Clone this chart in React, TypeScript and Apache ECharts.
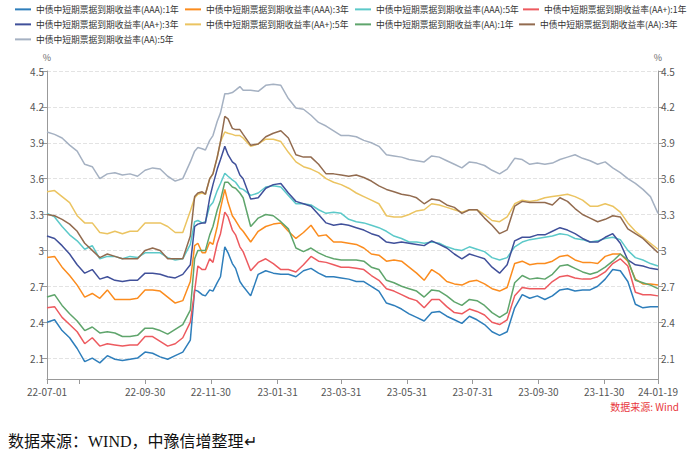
import React, { useEffect, useRef } from "react";
import * as echarts from "echarts";

const FONT = "'Noto Sans CJK SC', 'Noto Sans', sans-serif";

const tickDates = ["22-07-01", "22-07-31", "22-09-30", "22-11-30", "23-01-31", "23-03-31", "23-05-31", "23-07-31", "23-09-30", "23-11-30", "24-01-19"];
const labelDates = ["22-07-01", "22-09-30", "22-11-30", "23-01-31", "23-03-31", "23-05-31", "23-07-31", "23-09-30", "23-11-30", "24-01-19"];

// day offsets from 2022-07-01 of the sampled points
const sampleDays = [0, 7, 14, 21, 28, 35, 42, 49, 56, 63, 70, 77, 84, 91, 98, 105, 112, 119, 126, 133,
  137, 140, 144, 147, 151, 154, 158, 161, 165, 168, 172, 175, 179, 182,
  189, 196, 203, 210, 217, 224, 231, 238, 245, 252, 259, 266, 273, 280,
  287, 294, 301, 308, 315, 322, 329, 336, 343, 350, 357, 364, 371, 378,
  385, 392, 399, 406, 413, 420, 427, 434, 441, 448, 455, 462, 469,
  476, 483, 490, 497, 504, 511, 518, 525, 532, 539, 546, 553, 560, 567];

const seriesNames = [
  "中债中短期票据到期收益率(AAA):1年",
  "中债中短期票据到期收益率(AAA):3年",
  "中债中短期票据到期收益率(AAA):5年",
  "中债中短期票据到期收益率(AA+):1年",
  "中债中短期票据到期收益率(AA+):3年",
  "中债中短期票据到期收益率(AA+):5年",
  "中债中短期票据到期收益率(AA):1年",
  "中债中短期票据到期收益率(AA):3年",
  "中债中短期票据到期收益率(AA):5年",
];

const colors = ["#2e7ebb", "#fb8c1e", "#5cc9c9", "#ed5a5f", "#40509a", "#ebc461", "#5fa56c", "#926b4f", "#a5b1c2"];

const aaa1 = [2.40, 2.42, 2.33, 2.27, 2.18, 2.07, 2.10, 2.06, 2.12, 2.09, 2.08, 2.09, 2.10, 2.15, 2.14, 2.11, 2.09, 2.12, 2.15, 2.25,
  2.67, 2.66, 2.63, 2.62, 2.67, 2.66, 2.73, 2.78, 3.03, 2.98, 2.89, 2.85, 2.74, 2.70,
  2.62, 2.80, 2.83, 2.81, 2.80, 2.80, 2.78, 2.83, 2.85, 2.81, 2.78, 2.78, 2.77, 2.76,
  2.74, 2.74, 2.70, 2.66, 2.56, 2.54, 2.51, 2.47, 2.44, 2.41, 2.48, 2.49, 2.45, 2.42,
  2.39, 2.45, 2.42, 2.38, 2.32, 2.29, 2.32, 2.52, 2.63, 2.60, 2.62, 2.59, 2.62,
  2.67, 2.68, 2.66, 2.67, 2.67, 2.70, 2.76, 2.84, 2.83, 2.74, 2.55, 2.52, 2.53, 2.53];

const aaa3 = [2.94, 2.95, 2.86, 2.79, 2.71, 2.61, 2.64, 2.60, 2.67, 2.59, 2.59, 2.59, 2.60, 2.67, 2.67, 2.66, 2.61, 2.56, 2.58, 2.74,
  3.04, 3.06, 2.98, 2.98, 3.07, 3.05, 3.20, 3.35, 3.51, 3.40, 3.29, 3.25, 3.19, 3.16,
  3.07, 3.16, 3.20, 3.22, 3.23, 3.16, 3.10, 3.15, 3.21, 3.12, 3.13, 3.07, 3.07, 3.06,
  3.05, 3.02, 2.97, 2.96, 2.91, 2.92, 2.91, 2.86, 2.81, 2.75, 2.84, 2.80, 2.74, 2.72,
  2.71, 2.74, 2.75, 2.72, 2.68, 2.66, 2.69, 2.89, 2.91, 2.88, 2.89, 2.89, 2.91,
  2.95, 2.96, 2.92, 2.90, 2.90, 2.89, 2.95, 2.97, 2.97, 2.91, 2.76, 2.72, 2.72, 2.71];

const aaa5 = [3.31, 3.28, 3.20, 3.13, 3.08, 3.01, 3.04, 2.93, 2.95, 2.95, 2.93, 2.95, 2.94, 2.98, 2.98, 2.98, 2.94, 2.92, 2.93, 3.05,
  3.24, 3.25, 3.23, 3.24, 3.37, 3.40, 3.50, 3.56, 3.645, 3.62, 3.59, 3.57, 3.52, 3.51,
  3.46, 3.48, 3.53, 3.54, 3.53, 3.46, 3.39, 3.39, 3.38, 3.34, 3.31, 3.32, 3.31, 3.26,
  3.24, 3.23, 3.21, 3.19, 3.16, 3.12, 3.10, 3.07, 3.07, 3.06, 3.07, 3.06, 3.03, 3.01,
  3.00, 3.03, 3.01, 2.99, 2.94, 2.92, 2.94, 3.03, 3.07, 3.09, 3.10, 3.11, 3.12,
  3.14, 3.13, 3.10, 3.09, 3.07, 3.08, 3.10, 3.11, 3.09, 3.00, 2.94, 2.92, 2.89, 2.87];

const aap1 = [2.52, 2.53, 2.44, 2.38, 2.32, 2.22, 2.27, 2.20, 2.22, 2.21, 2.20, 2.21, 2.21, 2.28, 2.28, 2.24, 2.20, 2.22, 2.27, 2.40,
  2.66, 2.87, 2.84, 2.84, 2.93, 2.90, 3.06, 3.14, 3.32, 3.28, 3.17, 3.13, 3.03, 2.99,
  2.83, 2.90, 2.93, 2.89, 2.84, 2.84, 2.82, 2.88, 2.95, 2.91, 2.90, 2.88, 2.86, 2.86,
  2.85, 2.84, 2.79, 2.75, 2.68, 2.66, 2.63, 2.60, 2.58, 2.52, 2.59, 2.59, 2.53, 2.48,
  2.47, 2.51, 2.49, 2.46, 2.40, 2.38, 2.42, 2.62, 2.69, 2.68, 2.68, 2.68, 2.74,
  2.78, 2.79, 2.77, 2.76, 2.76, 2.78, 2.82, 2.89, 2.93, 2.87, 2.65, 2.63, 2.63, 2.62];

const aap3 = [3.12, 3.10, 3.04, 2.97, 2.88, 2.81, 2.84, 2.76, 2.78, 2.75, 2.74, 2.75, 2.75, 2.81, 2.81, 2.80, 2.78, 2.77, 2.80, 2.88,
  3.20, 3.22, 3.23, 3.23, 3.44, 3.55, 3.68, 3.76, 3.87, 3.80, 3.74, 3.72, 3.63, 3.60,
  3.43, 3.44, 3.52, 3.55, 3.56, 3.48, 3.41, 3.39, 3.37, 3.30, 3.23, 3.21, 3.22, 3.21,
  3.19, 3.17, 3.14, 3.12, 3.07, 3.06, 3.07, 3.06, 3.05, 3.04, 3.08, 3.05, 3.02, 2.97,
  2.93, 2.97, 2.95, 2.93, 2.86, 2.81, 2.88, 3.08, 3.11, 3.11, 3.13, 3.13, 3.16,
  3.19, 3.17, 3.14, 3.10, 3.07, 3.07, 3.11, 3.14, 3.06, 2.92, 2.88, 2.87, 2.85, 2.84];

const aap5 = [3.49, 3.50, 3.45, 3.40, 3.29, 3.23, 3.23, 3.15, 3.14, 3.16, 3.14, 3.16, 3.16, 3.23, 3.23, 3.23, 3.20, 3.15, 3.15, 3.33,
  3.44, 3.47, 3.48, 3.47, 3.60, 3.64, 3.78, 3.91, 3.99, 3.98, 3.97, 3.96, 3.96, 3.94,
  3.87, 3.89, 3.93, 3.93, 3.91, 3.82, 3.74, 3.70, 3.68, 3.65, 3.60, 3.57, 3.55, 3.52,
  3.48, 3.45, 3.42, 3.39, 3.29, 3.28, 3.28, 3.30, 3.33, 3.34, 3.39, 3.38, 3.36, 3.34,
  3.32, 3.34, 3.34, 3.30, 3.25, 3.24, 3.28, 3.39, 3.42, 3.41, 3.42, 3.44, 3.45,
  3.46, 3.47, 3.45, 3.42, 3.37, 3.37, 3.39, 3.37, 3.32, 3.23, 3.16, 3.11, 3.06, 3.01];

const aa1 = [2.61, 2.63, 2.54, 2.47, 2.41, 2.33, 2.36, 2.31, 2.32, 2.31, 2.28, 2.28, 2.29, 2.35, 2.35, 2.33, 2.30, 2.34, 2.38, 2.50,
  2.93, 3.00, 3.00, 3.00, 3.13, 3.20, 3.34, 3.42, 3.57, 3.57, 3.53, 3.52, 3.48, 3.44,
  3.20, 3.27, 3.30, 3.29, 3.24, 3.18, 3.02, 2.99, 3.02, 2.98, 2.95, 2.93, 2.92, 2.92,
  2.92, 2.91, 2.86, 2.84, 2.75, 2.73, 2.70, 2.68, 2.66, 2.61, 2.67, 2.66, 2.62, 2.57,
  2.54, 2.59, 2.58, 2.54, 2.48, 2.44, 2.48, 2.73, 2.79, 2.76, 2.77, 2.76, 2.80,
  2.87, 2.88, 2.85, 2.82, 2.80, 2.82, 2.86, 2.91, 2.97, 2.92, 2.75, 2.73, 2.71, 2.68];

const aa3 = [3.30, 3.29, 3.26, 3.22, 3.16, 3.06, 3.00, 2.94, 2.97, 2.95, 2.93, 2.93, 2.93, 3.00, 3.02, 3.00, 2.93, 2.93, 2.93, 3.12,
  3.45, 3.48, 3.49, 3.47, 3.60, 3.64, 3.78, 3.91, 4.12, 4.10, 4.02, 4.01, 4.01, 3.97,
  3.88, 3.89, 3.95, 3.98, 4.00, 3.94, 3.80, 3.78, 3.78, 3.72, 3.64, 3.64, 3.63, 3.62,
  3.63, 3.61, 3.58, 3.54, 3.51, 3.49, 3.47, 3.46, 3.44, 3.39, 3.43, 3.42, 3.38, 3.36,
  3.31, 3.34, 3.34, 3.27, 3.21, 3.14, 3.17, 3.37, 3.41, 3.40, 3.40, 3.40, 3.38,
  3.44, 3.41, 3.35, 3.30, 3.27, 3.24, 3.26, 3.29, 3.28, 3.18, 3.14, 3.10, 3.04, 2.98];

const aa5 = [3.99, 3.97, 3.94, 3.88, 3.83, 3.72, 3.70, 3.60, 3.64, 3.65, 3.63, 3.64, 3.62, 3.67, 3.69, 3.68, 3.62, 3.58, 3.60, 3.74,
  3.83, 3.86, 3.85, 3.84, 3.92, 3.96, 4.08, 4.15, 4.31, 4.31, 4.32, 4.34, 4.37, 4.34,
  4.34, 4.33, 4.38, 4.39, 4.38, 4.27, 4.19, 4.18, 4.13, 4.07, 4.04, 4.00, 3.96, 3.96,
  3.95, 3.92, 3.90, 3.87, 3.80, 3.79, 3.78, 3.76, 3.75, 3.74, 3.79, 3.78, 3.75, 3.72,
  3.69, 3.74, 3.73, 3.71, 3.67, 3.64, 3.68, 3.77, 3.76, 3.72, 3.73, 3.72, 3.73,
  3.76, 3.78, 3.80, 3.77, 3.75, 3.72, 3.74, 3.69, 3.65, 3.60, 3.56, 3.51, 3.45, 3.31];

const seriesValues = [aaa1, aaa3, aaa5, aap1, aap3, aap5, aa1, aa3, aa5];

const yMin = 1.925;
const yMax = 4.5;

function buildDays(): string[] {
  const out: string[] = [];
  const s = Date.UTC(2022, 6, 1);
  const e = Date.UTC(2024, 0, 19);
  for (let t = s; t <= e; t += 86400000) {
    const d = new Date(t);
    const yy = String(d.getUTCFullYear()).slice(2);
    const mm = String(d.getUTCMonth() + 1).padStart(2, "0");
    const dd = String(d.getUTCDate()).padStart(2, "0");
    out.push(`${yy}-${mm}-${dd}`);
  }
  return out;
}

// legend item placement (left, top) for each series in order
const legendSlots: [number, number][] = [
  [15, 5], [185, 5], [355, 5], [523, 5],
  [15, 20], [185, 20], [355, 20], [519, 20],
  [15, 35],
];

export default function App() {
  const ref = useRef<HTMLDivElement>(null);

  useEffect(() => {
    if (!ref.current) return;
    const chart = echarts.init(ref.current, undefined, { renderer: "svg" });
    const days = buildDays();

    const yAxisBase = {
      type: "value",
      min: yMin,
      max: yMax,
      splitNumber: 8,
      name: "%",
      nameLocation: "end",
      nameGap: 9,
      nameTextStyle: { fontSize: 9, color: "#666", fontFamily: FONT, align: "center" },
      axisLine: { show: true, lineStyle: { color: "#999" } },
      axisTick: { show: true, length: 5, lineStyle: { color: "#999" } },
      axisLabel: { color: "#555", fontSize: 10, margin: 3, showMinLabel: false, fontFamily: FONT },
    };

    const option = {
      animation: false,
      backgroundColor: "#ffffff",
      color: colors,
      legend: seriesNames.map((name, k) => ({
        orient: "horizontal",
        icon: "rect",
        itemWidth: 16,
        itemHeight: 2,
        itemGap: 0,
        padding: 0,
        left: legendSlots[k][0],
        top: legendSlots[k][1],
        textStyle: { fontSize: 8.75, color: "#333", fontFamily: FONT },
        data: [name],
      })),
      grid: { left: 47, right: 33, top: 71, bottom: 81, containLabel: false },
      xAxis: {
        type: "category",
        data: days,
        boundaryGap: false,
        axisLine: { lineStyle: { color: "#999" } },
        axisTick: {
          show: true,
          length: 5,
          interval: (_i: number, v: string) => tickDates.includes(v),
          lineStyle: { color: "#999" },
        },
        axisLabel: {
          interval: (_i: number, v: string) => labelDates.includes(v),
          color: "#555",
          fontSize: 10,
          margin: 7,
          fontFamily: FONT,
        },
        splitLine: { show: false },
      },
      yAxis: [
        {
          ...yAxisBase,
          position: "left",
          splitLine: { show: true, lineStyle: { color: "#e3e3e3", type: "dashed" } },
        },
        {
          ...yAxisBase,
          position: "right",
          splitLine: { show: false },
        },
      ],
      series: seriesNames.map((name, k) => ({
        name,
        type: "line",
        yAxisIndex: 0,
        showSymbol: false,
        symbol: "none",
        lineStyle: { width: 1.5 },
        data: sampleDays.map((d, i) => [d, seriesValues[k][i]]),
      })),
      graphic: [
        {
          type: "text",
          right: 12,
          top: 401,
          style: { text: "数据来源: Wind", fill: "#e8383d", fontSize: 10, fontFamily: FONT },
        },
        {
          type: "text",
          left: 8,
          top: 433,
          style: {
            text: "数据来源：WIND，中豫信增整理↵",
            fill: "#111",
            fontSize: 16,
            fontFamily: "'Liberation Serif', 'Noto Sans CJK SC', serif",
          },
        },
      ],
    };

    chart.setOption(option as any);
    return () => chart.dispose();
  }, []);

  return (
    <div
      ref={ref}
      style={{ position: "absolute", left: 0, top: 0, width: 691, height: 460, background: "#fff" }}
    />
  );
}
